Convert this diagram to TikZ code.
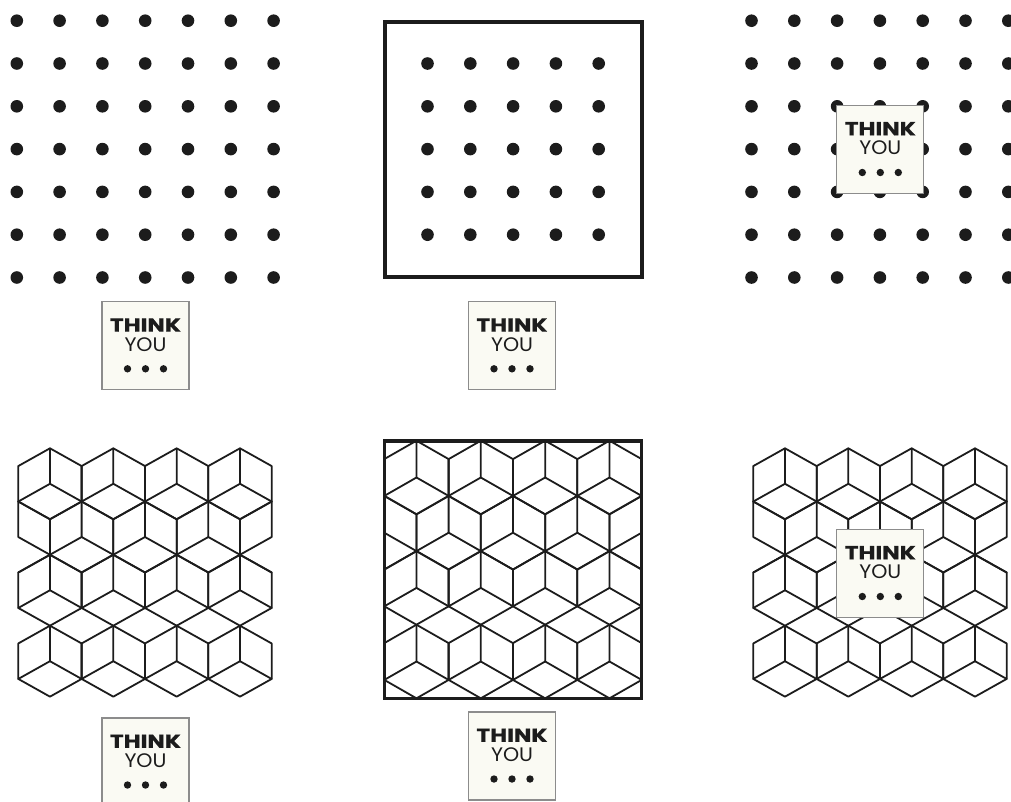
\documentclass[tikz,border=0pt]{standalone}
\usepackage{fontspec}
\usepackage{graphicx}
\newfontfamily\poppins{Poppins}[BoldFeatures={FakeBold=0.6}]
\definecolor{ink}{HTML}{1C1C1C}
\definecolor{cream}{HTML}{FAFAF3}
\definecolor{rim}{HTML}{8C8C8C}
\tikzset{
  dotc/.style={fill=ink},
  cubeline/.style={draw=ink, line width=1.8pt, line join=round, line cap=round},
  frame/.style={draw=ink, line width=4pt},
  tbox/.style={draw=rim, line width=1.2pt, fill=cream, minimum width=87pt, minimum height=88pt, inner sep=0pt},
  tword/.style={inner sep=0pt, text=ink},
}
\newcommand\fullcube[2]{%
  \draw[cubeline] (#1,#2) -- ++(-1,1) -- ++(0,2) -- ++(1,1) -- ++(1,-1) -- ++(0,-2) -- cycle;
  \draw[cubeline] (#1,#2) -- ++(0,2) -- ++(-1,1);
  \draw[cubeline] (#1,#2+2) -- ++(1,1);}
\newcommand\halfright[2]{%
  \draw[cubeline] (#1,#2) -- ++(1,1) -- ++(0,2) -- ++(-1,1);
  \draw[cubeline] (#1,#2) -- ++(0,2) -- ++(1,1);}
\newcommand\halfleft[2]{%
  \draw[cubeline] (#1,#2) -- ++(-1,1) -- ++(0,2) -- ++(1,1);
  \draw[cubeline] (#1,#2) -- ++(0,2) -- ++(-1,1);}
\newcommand\tumbling{%
  \foreach \i in {1,3,5,7} {\fullcube{\i}{0} \fullcube{\i}{6} \fullcube{\i}{10}}
  \foreach \i in {2,4,6} {\fullcube{\i}{3}}
  \halfright{0}{3} \halfleft{8}{3}}
\newcommand\dotgrid[4]{% x0 y0 last index, first index
  \foreach \a in {#4,...,#3} {\foreach \b in {#4,...,#3} {\fill[dotc] (#1+42.8*\a,#2+42.8*\b) circle (6.3pt);}}}
\newcommand\thinkbox[3]{%
  \node[tbox] (#1) at (#2,#3) {};
  \node[tword] (#1-t) at ([yshift=20.8pt]#1.center) {\resizebox{71pt}{13.3pt}{\poppins\bfseries THINK}};
  \node[tword] (#1-y) at ([yshift=1.5pt]#1.center) {\resizebox{42pt}{13.8pt}{\poppins YOU}};
  \fill[ink] ([xshift=-18pt,yshift=-23pt]#1.center) circle (3.7pt);
  \fill[ink] ([yshift=-23pt]#1.center) circle (3.7pt);
  \fill[ink] ([xshift=18pt,yshift=-23pt]#1.center) circle (3.7pt);}
\begin{document}
\begin{tikzpicture}[x=1pt,y=-1pt]
\useasboundingbox (0,0) rectangle (1011,801);
\fill[white] (0,0) rectangle (1011,801);
% top row: dot grids
\dotgrid{16.8}{20.7}{6}{0}
\draw[frame] (384.7,21.7) rectangle (641.7,276.7);
\dotgrid{384.7}{20.7}{5}{1}
\dotgrid{751.5}{20.7}{6}{0}
% bottom row: tumbling blocks
\begin{scope}[shift={(18.3,448.3)}, x={(31.67pt,0pt)}, y={(0pt,-17.74pt)}]
  \tumbling
\end{scope}
\begin{scope}[shift={(384.3,440.7)}, x={(32.17pt,0pt)}, y={(0pt,-18.4pt)}]
  \tumbling
  \draw[ink, line width=3.6pt] (0,0) rectangle (8,14);
\end{scope}
\begin{scope}[shift={(753.3,448.3)}, x={(31.67pt,0pt)}, y={(0pt,-17.74pt)}]
  \tumbling
\end{scope}
% THINK YOU boxes
\thinkbox{tl}{145.5}{345.8}
\thinkbox{tm}{512}{345.8}
\thinkbox{tr}{880.3}{149.5}
\thinkbox{bl}{145.5}{762}
\thinkbox{bm}{512}{756}
\thinkbox{br}{880.3}{573.5}
\end{tikzpicture}
\end{document}
